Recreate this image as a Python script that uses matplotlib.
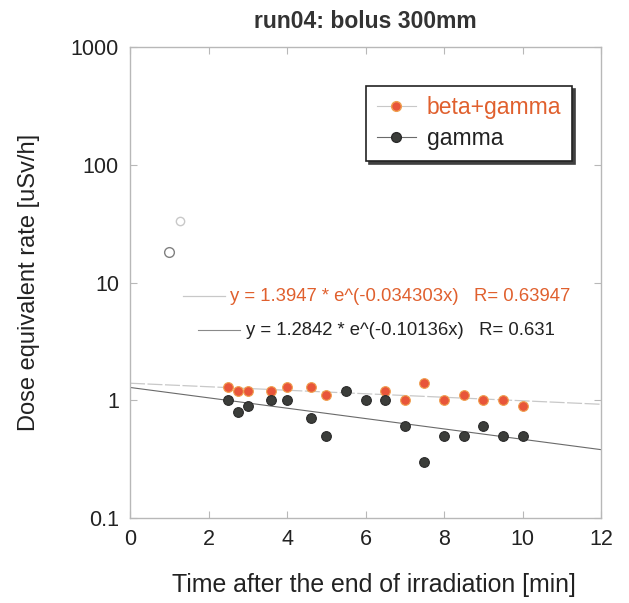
import numpy as np
import matplotlib.pyplot as plt
from matplotlib.lines import Line2D

plt.rcParams['font.family'] = ['Liberation Sans', 'DejaVu Sans']

# beta+gamma (orange)
t_bg = [2.5, 2.75, 3.0, 3.6, 4.0, 4.6, 5.0, 6.5, 7.0, 7.5, 8.0, 8.5, 9.0, 9.5, 10.0]
d_bg = [1.3, 1.2, 1.2, 1.2, 1.3, 1.3, 1.1, 1.2, 1.0, 1.4, 1.0, 1.1, 1.0, 1.0, 0.9]

# gamma (black)
t_g = [2.5, 2.75, 3.0, 3.6, 4.0, 4.6, 5.0, 5.5, 6.0, 6.5, 7.0, 7.5, 8.0, 8.5, 9.0, 9.5, 10.0]
d_g = [1.0, 0.8, 0.9, 1.0, 1.0, 0.7, 0.5, 1.2, 1.0, 1.0, 0.6, 0.3, 0.5, 0.5, 0.6, 0.5, 0.5]

# early points (open markers)
t_early = [1.0, 1.27]
d_early = [18, 33]

# exponential fits y = a * exp(b x), R
fit_bg = (1.3947, -0.034303, 0.63947)
fit_g = (1.2842, -0.10136, 0.631)

C_BG = '#e8553a'
C_BG_TXT = '#e0602e'
C_G = '#3b3d3a'
C_AX = '#b8b8b8'
C_TXT = '#222222'

fig = plt.figure(figsize=(6.29, 6.03), dpi=100)
ax = fig.add_axes([0.2067, 0.141, 0.7488, 0.781])

xx = np.linspace(0, 12, 200)
ax.plot(xx, fit_bg[0] * np.exp(fit_bg[1] * xx), color='#c8c8c8', lw=0.9,
        dashes=(12, 2))
ax.plot(xx, fit_g[0] * np.exp(fit_g[1] * xx), color='#6a6a6a', lw=0.8)

ax.plot(t_bg, d_bg, 'o', ms=7, mfc=C_BG, mec='#f0a050', mew=0.8, zorder=3)
ax.plot(t_g, d_g, 'o', ms=7, mfc=C_G, mec='#2a2a2a', mew=0.8, zorder=4)
ax.plot(t_early[0], d_early[0], 'o', ms=7, mfc='white', mec='#808080', mew=1.0)
ax.plot(t_early[1], d_early[1], 'o', ms=6, mfc='white', mec='#c8c8c8', mew=1.0)

ax.set_yscale('log')
ax.set_xlim(0, 12)
ax.set_ylim(0.1, 1000)
ax.set_xticks([0, 2, 4, 6, 8, 10, 12])
ax.set_yticks([0.1, 1, 10, 100, 1000])
ax.set_yticklabels(['0.1', '1', '10', '100', '1000'])
ax.minorticks_off()
ax.tick_params(direction='in', length=5, width=0.8, color=C_AX,
               labelsize=15.5, labelcolor=C_TXT, top=True, right=True, pad=8)
for s in ax.spines.values():
    s.set_color(C_AX)
    s.set_linewidth(1.0)

ax.set_xlabel('Time after the end of irradiation [min]', fontsize=17.9,
              color=C_TXT)
ax.xaxis.set_label_coords(0.517, -0.117)
ax.set_ylabel('Dose equivalent rate [uSv/h]', fontsize=17,
              color=C_TXT, labelpad=22)
ax.set_title('run04: bolus 300mm', fontsize=16.5, fontweight='bold',
             color='#333333', pad=14)

# fit equations
ax.plot([0.1125, 0.2017], [0.471, 0.471], transform=ax.transAxes,
        color='#c8c8c8', lw=0.9)
ax.text(0.212, 0.471,
        'y = %.4f * e^(%.6fx)   R= %.5f' % fit_bg,
        transform=ax.transAxes, fontsize=13.3, color=C_BG_TXT, va='center')
ax.plot([0.144, 0.2335], [0.399, 0.399], transform=ax.transAxes,
        color='#8a8a8a', lw=0.8)
ax.text(0.246, 0.399,
        'y = %.4f * e^(%.5fx)   R= %.3f' % fit_g,
        transform=ax.transAxes, fontsize=13.3, color=C_TXT, va='center')

handles = [
    Line2D([], [], color='#c8c8c8', lw=0.8, marker='o', ms=7, mfc=C_BG, mec='#f0a050'),
    Line2D([], [], color='#6a6a6a', lw=0.8, marker='o', ms=7, mfc=C_G, mec='#2a2a2a'),
]
leg = ax.legend(handles, ['beta+gamma', 'gamma'], loc='upper right',
                bbox_to_anchor=(0.938, 0.917), fontsize=16.5, frameon=True,
                fancybox=False, shadow={'color': '#404040', 'alpha': 1.0},
                edgecolor=C_TXT, handlelength=1.7, handletextpad=0.5,
                borderpad=0.45, labelspacing=0.35, borderaxespad=0)
leg.get_frame().set_linewidth(1.2)
leg.get_texts()[0].set_color(C_BG_TXT)
leg.get_texts()[1].set_color(C_TXT)

fig.savefig('out.png', dpi=100, facecolor='white')
